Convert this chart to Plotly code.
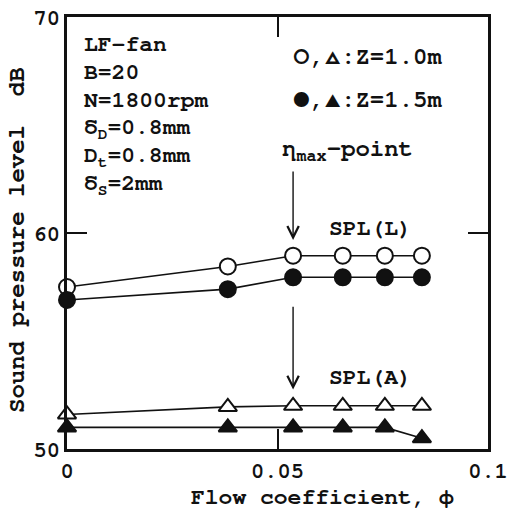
import plotly.graph_objects as go

# Flow coefficient at each measuring point
phi = [0.0, 0.0382, 0.0537, 0.0655, 0.0755, 0.0843]

# Sound pressure levels, dB
spl_l_z10 = [57.5, 58.45, 58.95, 58.95, 58.95, 58.95]
spl_l_z15 = [56.9, 57.4, 57.95, 57.95, 57.95, 57.95]
spl_a_z10 = [51.6, 51.95, 52.0, 52.0, 52.0, 52.0]
spl_a_z15 = [51.0, 51.0, 51.0, 51.0, 51.0, 50.5]

x_ticks = [0, 0.05, 0.1]
x_tick_text = ["0", "0.05", "0.1"]
y_ticks = [50, 60, 70]
y_tick_text = ["50", "60", "70"]

eta_max_phi = 0.0537

FONT = "FreeMono, Courier, monospace"
INK = "#111111"
TXT = dict(family=FONT, size=23, color=INK, weight="bold")
TXT24 = dict(family=FONT, size=24, color=INK, weight="bold")
TICK = dict(family=FONT, size=22, color=INK, weight="bold")

fig = go.Figure()

series = [
    (spl_l_z10, "circle", "white"),
    (spl_l_z15, "circle", INK),
    (spl_a_z10, "triangle-up", "white"),
    (spl_a_z15, "triangle-up", INK),
]
for ys, sym, fill in series:
    fig.add_trace(go.Scatter(
        x=phi, y=ys, mode="lines+markers",
        line=dict(color=INK, width=1.6),
        marker=dict(symbol=sym, size=16, color=fill,
                    line=dict(color=INK, width=2)),
        showlegend=False, cliponaxis=False,
    ))

annotations = []
# parameter block
params = ["LF-fan", "B=20", "N=1800rpm", "δ<sub>D</sub>=0.8mm",
          "D<sub>t</sub>=0.8mm", "δ<sub>S</sub>=2mm"]
for i, t in enumerate(params):
    annotations.append(dict(x=0.0035, y=68.72 - i * 1.3, xref="x", yref="y",
                            text=t, showarrow=False, xanchor="left", yanchor="middle",
                            font=TXT))

# symbol key
big = "<span style='font-size:28px'>{}</span>"
annotations.append(dict(x=0.0533, y=68.2, xref="x", yref="y",
                        text=big.format("○") + "," + big.format("△") + ":Z=1.0m",
                        showarrow=False, xanchor="left", yanchor="middle",
                        font=TXT24))
annotations.append(dict(x=0.0533, y=66.2, xref="x", yref="y",
                        text=big.format("●") + "," + big.format("▲") + ":Z=1.5m",
                        showarrow=False, xanchor="left", yanchor="middle",
                        font=TXT24))

annotations.append(dict(x=0.0505, y=63.8, xref="x", yref="y", text="η<sub>max</sub>-point",
                        showarrow=False, xanchor="left", yanchor="middle", font=TXT24))
annotations.append(dict(x=0.0617, y=60.2, xref="x", yref="y", text="SPL(L)",
                        showarrow=False, xanchor="left", yanchor="middle", font=TXT))
annotations.append(dict(x=0.0617, y=53.3, xref="x", yref="y", text="SPL(A)",
                        showarrow=False, xanchor="left", yanchor="middle", font=TXT))

# axis titles
annotations.append(dict(x=(322 - 67) / 421, y=-(497 - 449) / 432, xref="paper", yref="paper",
                        text="Flow coefficient, ϕ", showarrow=False,
                        xanchor="center", yanchor="middle", font=TXT))
annotations.append(dict(x=-(67 - 17) / 421, y=(449 - 240) / 432, xref="paper", yref="paper",
                        text="Sound pressure level  dB", showarrow=False, textangle=-90,
                        xanchor="center", yanchor="middle", font=TXT24))

# arrows marking the maximum-efficiency point
for y_tail, y_head in [(62.92, 59.68), (56.65, 52.75)]:
    annotations.append(dict(x=eta_max_phi, y=y_head, ax=eta_max_phi, ay=y_tail,
                            xref="x", yref="y", axref="x", ayref="y",
                            showarrow=True, arrowhead=5, arrowsize=1.6, arrowwidth=1.4,
                            arrowcolor=INK, text=""))

axis_common = dict(ticks="inside", ticklen=20, tickwidth=2, tickcolor=INK,
                   showline=True, linewidth=2.5, linecolor=INK, mirror="ticks",
                   showgrid=False, zeroline=False, ticklabeloverflow="allow",
                   automargin=False, tickfont=TICK)

fig.update_layout(
    width=507, height=508,
    margin=dict(l=67, r=19, t=17, b=59),
    paper_bgcolor="white", plot_bgcolor="white",
    font=TXT,
    annotations=annotations,
    xaxis=dict(range=[0, 0.1], tickvals=x_ticks, ticktext=x_tick_text, **axis_common),
    yaxis=dict(range=[50, 70], tickvals=y_ticks, ticktext=y_tick_text, **axis_common),
)

fig.write_html("out.html")
